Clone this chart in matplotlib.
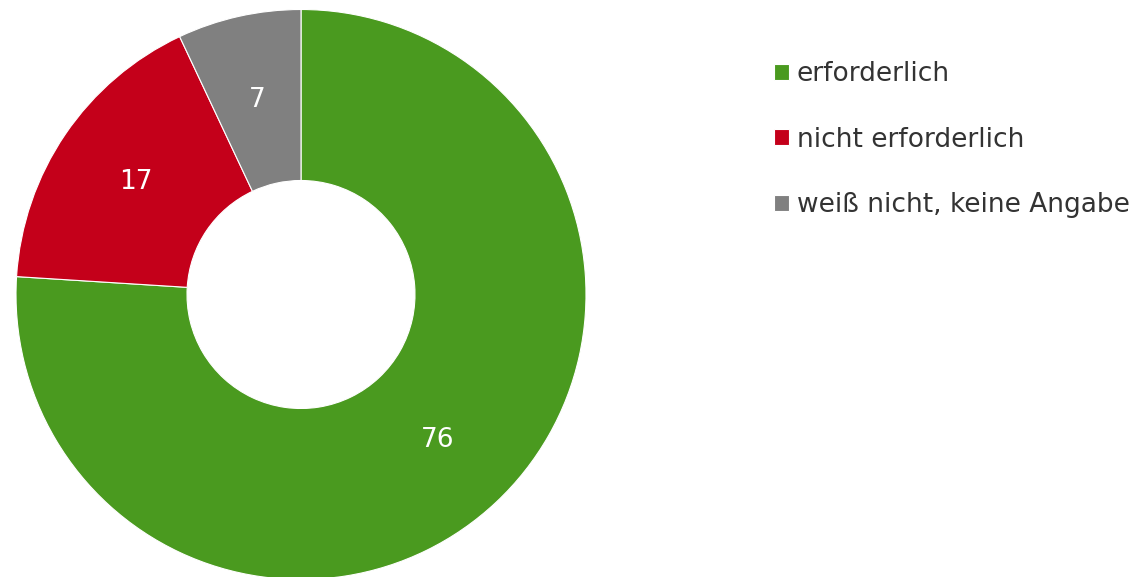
"""
Ringdiagramm: erforderlich / nicht erforderlich / weiss nicht
"""
import matplotlib
matplotlib.use("Agg")
import matplotlib.pyplot as plt

plt.rcParams["font.family"] = ["DejaVu Sans"]

kategorien = ["erforderlich", "nicht erforderlich", "weiß nicht, keine Angabe"]
werte = [76, 17, 7]
farben = ["#4A9A1F", "#C4001A", "#808080"]

W, H = 1135, 577
fig = plt.figure(figsize=(W / 100, H / 100), dpi=100)

# Ring: Mitte (301, 294.5) px, Radius 285 px
cx, cy, r = 301, 294.5, 285
ax = fig.add_axes([(cx - r) / W, (H - cy - r) / H, 2 * r / W, 2 * r / H])
wedges, _, autotexts = ax.pie(
    werte, colors=farben, startangle=90, counterclock=False,
    autopct=lambda p: f"{p:.0f}", pctdistance=0.7,
    wedgeprops=dict(width=0.6, edgecolor="white", linewidth=0.8),
    textprops=dict(color="white", fontsize=19),
)
ax.set_xlim(-1, 1)
ax.set_ylim(-1, 1)
ax.set_aspect("equal")
ax.axis("off")
for w in wedges:
    w.set_clip_on(False)

leg = fig.legend(
    wedges, kategorien, loc="upper left",
    bbox_to_anchor=(774 / W, 1 - 61 / H), frameon=False,
    fontsize=19, handlelength=0.57, handleheight=0.57,
    handletextpad=0.3, labelspacing=1.5, borderpad=0, borderaxespad=0,
)
for t in leg.get_texts():
    t.set_color("#333333")

fig.savefig("out.png", dpi=100)
